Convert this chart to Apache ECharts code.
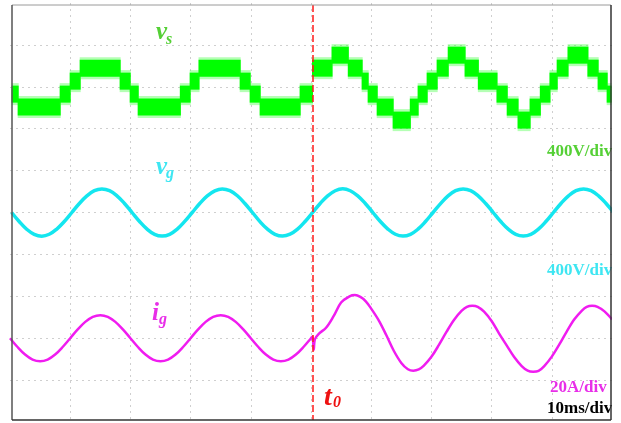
<!DOCTYPE html>
<html><head><meta charset="utf-8">
<script src="https://cdn.jsdelivr.net/npm/echarts@6/dist/echarts.min.js"></script>
<style>html,body{margin:0;padding:0;background:#fff}#c{width:621px;height:423px}</style>
</head><body><div id="c"></div>
<script>
// ---- time axis (ms) : 10 ms/div, 10 divisions ----
const X_MIN = 0, X_MAX = 100, X_DIV = 10;
// ---- vertical screen: 10 divisions ----
const Y_MIN = 0, Y_MAX = 10, Y_DIV = 1;
const T0 = 50.25; // switching instant t0 (ms)

// channel scales (units per division) and centre positions (division index from bottom)
const VS_SCALE = 400, VS_CENTER = 7.98;   // 400V/div
const VG_SCALE = 400, VG_CENTER = 5;      // 400V/div
const IG_SCALE = 20,  IG_CENTER = 2;      // 20A/div

// ---- v_s : multilevel staircase (segment edges in ms, level in V) ----
const vsEdges = [0.35, 1.36, 8.34, 10.0, 11.66, 18.3, 19.97, 21.3, 28.3, 29.93, 31.4, 38.24, 39.9, 41.56, 48.2,
  50.25, 53.5, 56.2, 58.5, 59.5, 61.0, 63.65, 66.5, 67.8, 69.3, 70.96, 72.8, 75.6, 77.8, 80.9, 82.6, 84.4,
  86.4, 88.1, 89.7, 90.9, 92.7, 96.0, 97.7, 99.2, 99.85];
const vsLevels = [-62, -186, -62, 62, 186, 62, -62, -186, -62, 62, 186, 62, -62, -186, -62,
  186, 310, 186, 62, -62, -186, -310, -186, -62, 62, 186, 310, 186, 62, -62, -186, -310,
  -186, -62, 62, 186, 310, 186, 62, -62];

// ---- v_g : grid voltage samples (V), first sample at VG_T_START, spacing VG_T_STEP ms ----
const VG_T_START = 0.27, VG_T_STEP = 1.25;
const vgValues = [
  0, -86, -160, -208, -226, -208, -158, -86, 0, 86, 158, 208, 224, 208, 159, 86,
  0, -86, -159, -209, -225, -208, -159, -85, 0, 86, 159, 207, 225, 208, 160, 86,
  0, -87, -159, -208, -225, -207, -159, -86, 0, 86, 159, 208, 226, 208, 159, 86,
  0, -86, -158, -208, -225, -208, -159, -86, 0, 85, 159, 208, 225, 209, 159, 86,
  0, -86, -159, -208, -224, -208, -159, -86, 0, 86, 159, 208, 225, 208, 159, 86,
  0];

// ---- i_g : grid current (A) ----
const IG_T_START = 0, IG_T_STEP = 1.25;
const igBefore = [
  0, -4.2, -7.8, -10.2, -11, -10.2, -7.8, -4.2, 0, 4.2, 7.8, 10.2, 11, 10.2, 7.8, 4.2,
  0, -4.2, -7.8, -10.2, -11, -10.2, -7.8, -4.2, 0, 4.2, 7.8, 10.2, 11, 10.2, 7.8, 4.2,
  0, -4.2, -7.8, -10.2, -11, -10.2, -7.8, -4.2, 0];
const igAfterT = [50.25, 50.45, 50.65,
  51.25, 52.5, 53.75, 55, 56.4, 57.3, 58.2, 59.1, 60, 61.25, 62.5, 63.75, 65, 66.1, 67.0, 67.9,
  68.75, 70, 71.25, 72.5, 73.75, 75, 75.9, 76.8, 77.7, 78.75, 80, 81.25, 82.5, 83.75, 85, 86.0, 86.9, 87.8,
  88.75, 90, 91.25, 92.5, 93.75, 95, 95.8, 96.7, 97.6, 98.75, 100];
const igAfterV = [0.8, -5.5, -0.5,
  2, 5, 10.5, 17, 20, 20.6, 19.7, 17.6, 14.1, 8.5, 1.5, -6, -11.8, -14.8, -15.5, -14.9,
  -13.1, -8.9, -3.2, 3.0, 8.7, 13, 15.0, 15.5, 15.0, 12.7, 8.2, 2.2, -3.4, -9.0, -13.3, -15.5, -16, -15.6,
  -13.3, -8.8, -3.0, 3.3, 9.0, 13.2, 15.0, 15.5, 15.0, 12.8, 9];

// ---- build series data ----
const vsData = vsLevels.map((lv, i) => [vsEdges[i], vsEdges[i + 1], lv]);
const vgData = vgValues.map((v, k) => [VG_T_START + k * VG_T_STEP, VG_CENTER + v / VG_SCALE]);
const igData = igBefore.map((v, k) => [IG_T_START + k * IG_T_STEP, IG_CENTER + v / IG_SCALE])
  .concat(igAfterT.map((t, i) => [t, IG_CENTER + igAfterV[i] / IG_SCALE]));

const BAND = 17;
function renderVs(params, api) {
  const d = VS_CENTER + api.value(2) / VS_SCALE;
  const a = api.coord([api.value(0), d]);
  const b = api.coord([api.value(1), d]);
  const w = b[0] - a[0] + 1;
  return {
    type: 'group', children: [
      { type: 'rect', shape: { x: a[0] - 0.5, y: a[1] - BAND / 2 - 2.5, width: w, height: BAND + 5 },
        style: { fill: 'rgba(40,255,40,0.35)' } },
      { type: 'rect', shape: { x: a[0] - 0.5, y: a[1] - BAND / 2, width: w, height: BAND },
        style: { fill: '#00ff00' } }
    ]
  };
}

const SERIF = '"Liberation Serif", "Times New Roman", serif';
function lbl(text, x, y, size, color, italic) {
  return { type: 'text', x: x, y: y, z: 90,
    style: { text: text, fill: color, font: (italic ? 'italic ' : '') + 'bold ' + size + 'px ' + SERIF,
      align: 'left', verticalAlign: 'middle' } };
}

const chart = echarts.init(document.getElementById('c'), null, { renderer: 'canvas' });
const gridLine = { show: true, showMinLine: false, showMaxLine: false,
  lineStyle: { color: '#cfcfcf', width: 1, type: [2, 4] } };
chart.setOption({
  animation: false,
  backgroundColor: '#ffffff',
  grid: { left: 10, top: 3, width: 602, height: 419, show: false },
  xAxis: { type: 'value', min: X_MIN, max: X_MAX, interval: X_DIV,
    axisLine: { show: false }, axisTick: { show: false }, axisLabel: { show: false }, splitLine: gridLine },
  yAxis: { type: 'value', min: Y_MIN, max: Y_MAX, interval: Y_DIV,
    axisLine: { show: false }, axisTick: { show: false }, axisLabel: { show: false }, splitLine: gridLine },
  series: [
    { type: 'custom', name: 'vs', z: 1, renderItem: renderVs, encode: { x: [0, 1], y: 2 }, data: vsData, silent: true },
    { type: 'line', name: 'vg', z: 2, data: vgData, smooth: 0.4, showSymbol: false,
      lineStyle: { color: '#14e6ef', width: 3.5 } },
    { type: 'line', name: 'ig', z: 3, data: igData, smooth: 0.35, showSymbol: false,
      lineStyle: { color: '#f01cf0', width: 2.5 },
      markLine: { silent: true, symbol: 'none', label: { show: false },
        lineStyle: { color: '#ff1a1a', width: 1.5, type: [7, 3] },
        data: [[{ coord: [T0, 9.95] }, { coord: [T0, 0.05] }]] } }
  ],
  graphic: [
    lbl('v', 156, 33, 25, '#55d036', true),
    lbl('s', 166, 39.5, 16, '#55d036', true),
    lbl('v', 156, 168, 25, '#3ee6f2', true),
    lbl('g', 166, 174, 16, '#3ee6f2', true),
    lbl('i', 152, 314, 25, '#e82ee8', true),
    lbl('g', 159, 319.5, 16, '#e82ee8', true),
    lbl('t', 324, 398, 28, '#ee1111', true),
    lbl('0', 333, 402.5, 16, '#ee1111', true),
    lbl('400V/div', 547, 152, 17, '#55d036', false),
    lbl('400V/div', 547, 271, 17, '#3ee6f2', false),
    lbl('20A/div', 550, 388, 17, '#e82ee8', false),
    lbl('10ms/div', 547, 409, 17, '#000000', false),
    { type: 'rect', z: 95, shape: { x: 612, y: 0, width: 9, height: 423 }, style: { fill: '#ffffff' } },
    { type: 'line', z: 100, shape: { x1: 12, y1: 5, x2: 611, y2: 5 }, style: { stroke: '#9a9a9a', lineWidth: 1 } },
    { type: 'line', z: 100, shape: { x1: 12, y1: 5, x2: 12, y2: 420 }, style: { stroke: '#555555', lineWidth: 1.5 } },
    { type: 'line', z: 100, shape: { x1: 611, y1: 5, x2: 611, y2: 420 }, style: { stroke: '#333333', lineWidth: 1.5 } },
    { type: 'line', z: 100, shape: { x1: 12, y1: 420, x2: 611, y2: 420 }, style: { stroke: '#333333', lineWidth: 1.5 } }
  ]
});
</script></body></html>
